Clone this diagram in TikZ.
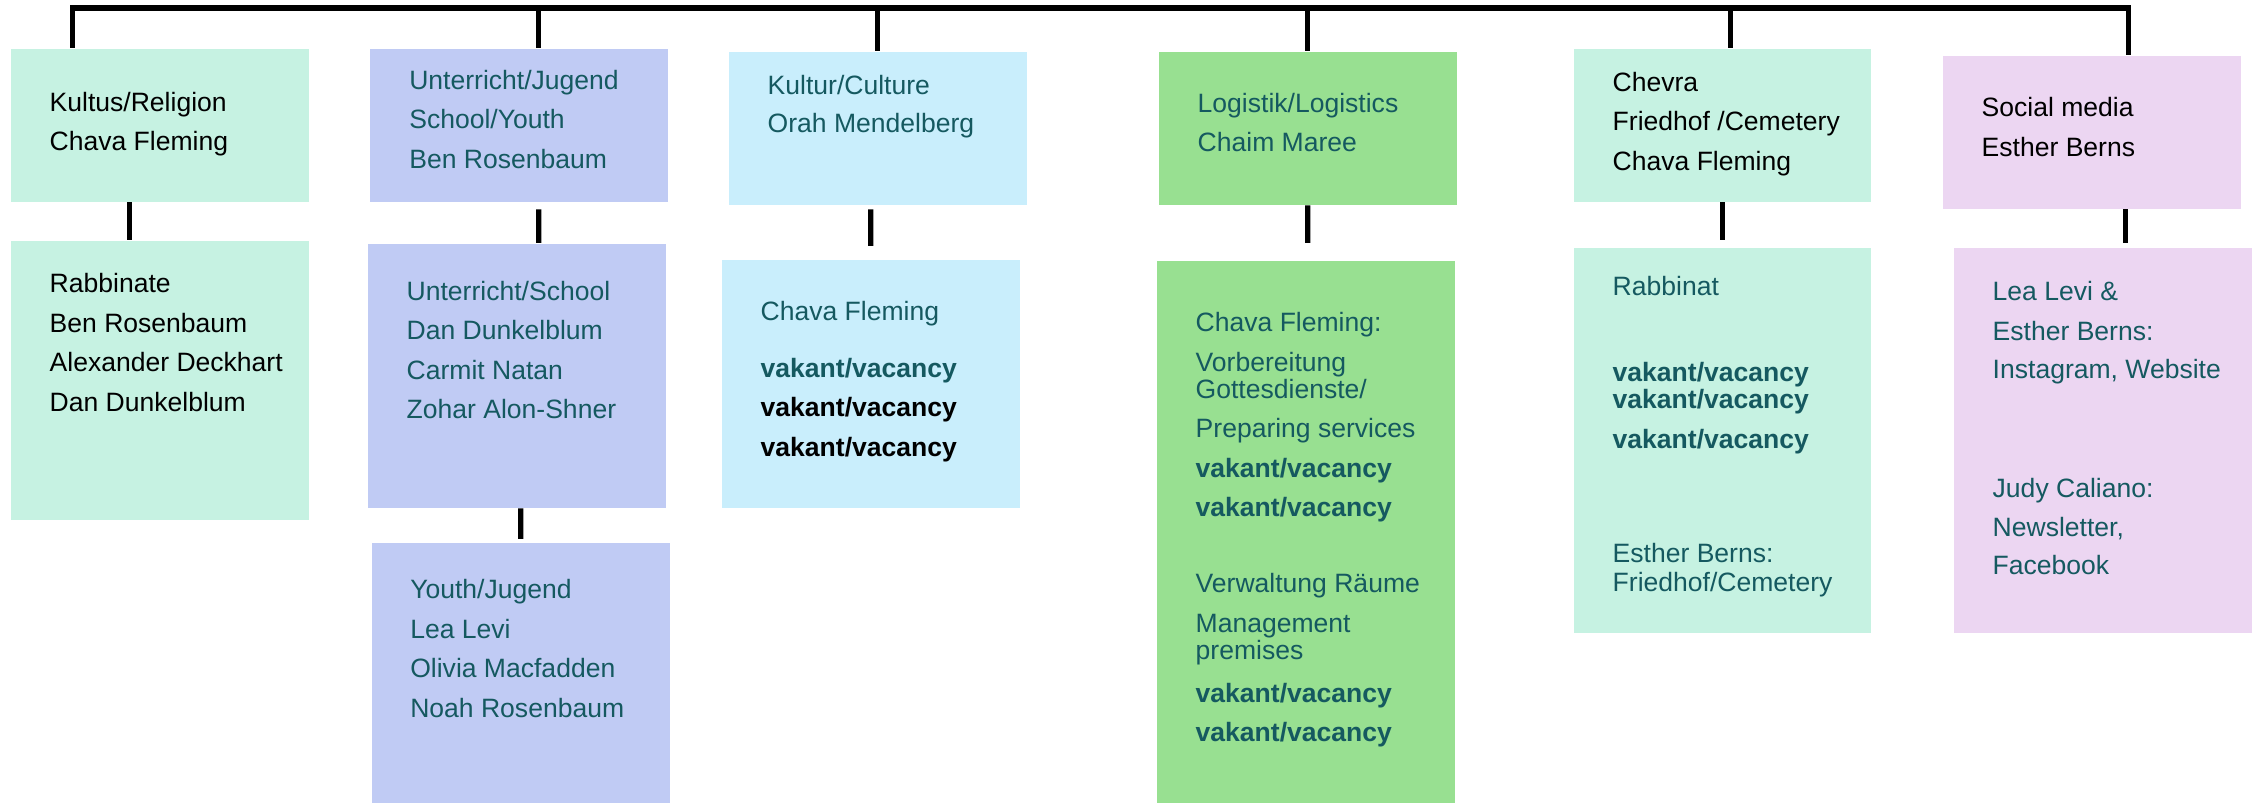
\documentclass[tikz,border=0pt]{standalone}
\usepackage{fontspec}
\setmainfont{Liberation Sans}
\usetikzlibrary{positioning}

\definecolor{mint}{HTML}{C6F2E2}
\definecolor{lavender}{HTML}{C0CBF4}
\definecolor{skyblue}{HTML}{C9EEFC}
\definecolor{leafgreen}{HTML}{98E091}
\definecolor{lilac}{HTML}{ECD6F2}
\definecolor{teal}{HTML}{155960}

\begin{document}
\begin{tikzpicture}
              % Define style for the boxes, texts and lines
              \tikzset{
                unitbox/.style={rectangle, inner sep=0pt, anchor=north west, minimum width=2.98cm, minimum height=1.53cm},
                unittext/.style={inner sep=0pt, align=left, text=teal, yshift=-0.085cm, font=\fontsize{7.55pt}{11.24pt}\selectfont, execute at begin node=\strut},
                link/.style={line width=1.5pt, black}
              }
              \useasboundingbox (0,0) rectangle (22.57,-8.03);

              % Draw the department boxes
              \node[unitbox, fill=mint] (kultus) at (0.10,-0.48) {};
              \node[unitbox, fill=lavender] (unterricht) at (3.69,-0.48) {};
              \node[unitbox, fill=skyblue] (kultur) at (7.28,-0.51) {};
              \node[unitbox, fill=leafgreen] (logistik) at (11.58,-0.51) {};
              \node[unitbox, fill=mint, minimum width=2.97cm] (chevra) at (15.73,-0.48) {};
              \node[unitbox, fill=lilac] (social) at (19.42,-0.55) {};

              % Draw the team boxes
              \node[unitbox, fill=mint, minimum height=2.79cm] (rabbinate) at (0.10,-2.40) {};
              \node[unitbox, fill=lavender, minimum height=2.64cm] (school) at (3.67,-2.43) {};
              \node[unitbox, fill=lavender, minimum height=2.61cm] (youth) at (3.71,-5.42) {};
              \node[unitbox, fill=skyblue, minimum height=2.48cm] (kulturb) at (7.21,-2.59) {};
              \node[unitbox, fill=leafgreen, minimum height=5.43cm] (logistikb) at (11.56,-2.60) {};
              \node[unitbox, fill=mint, minimum width=2.97cm, minimum height=3.85cm] (rabbinat) at (15.73,-2.47) {};
              \node[unitbox, fill=lilac, minimum height=3.85cm] (socialb) at (19.53,-2.47) {};

              % Texts
              \node[unittext, text=black, below right=0.349cm and 0.39cm of kultus.north west] (kultus-t)
                {Kultus/Religion\\Chava Fleming};
              \node[unittext, text=black, below right=0.243cm and 0.39cm of rabbinate.north west] (rabbinate-t)
                {Rabbinate\\Ben Rosenbaum\\Alexander Deckhart\\Dan Dunkelblum};
              \node[unittext, below right=0.129cm and 0.396cm of unterricht.north west] (unterricht-t)
                {Unterricht/Jugend\\School/Youth\\Ben Rosenbaum};
              \node[unittext, below right=0.288cm and 0.39cm of school.north west] (school-t)
                {Unterricht/School\\Dan Dunkelblum\\Carmit Natan\\Zohar Alon-Shner};
              \node[unittext, below right=0.283cm and 0.386cm of youth.north west] (youth-t)
                {Youth/Jugend\\Lea Levi\\Olivia Macfadden\\Noah Rosenbaum};
              \node[unittext, below right=0.15cm and 0.39cm of kultur.north west] (kultur-t)
                {Kultur/Culture\\[-0.4pt]Orah Mendelberg};
              \node[unittext, below right=0.333cm and 0.39cm of kulturb.north west] (kulturb-t)
                {Chava Fleming\\[4.9pt]\textbf{vakant/vacancy}\\
                 \textcolor{black}{\textbf{vakant/vacancy}}\\\textcolor{black}{\textbf{vakant/vacancy}}};
              \node[unittext, below right=0.329cm and 0.39cm of logistik.north west] (logistik-t)
                {Logistik/Logistics\\Chaim Maree};
              \node[unittext, below right=0.433cm and 0.39cm of logistikb.north west] (logistikb-t)
                {Chava Fleming:\\Vorbereitung\\[-3.6pt]Gottesdienste/\\Preparing services\\
                 \textbf{vakant/vacancy}\\\textbf{vakant/vacancy}\\[10.4pt]
                 Verwaltung Räume\\Management\\[-3.6pt]premises\\[1.1pt]
                 \textbf{vakant/vacancy}\\\textbf{vakant/vacancy}};
              \node[unittext, text=black, below right=0.149cm and 0.39cm of chevra.north west] (chevra-t)
                {Chevra\\Friedhof /Cemetery\\Chava Fleming};
              \node[unittext, below right=0.197cm and 0.39cm of rabbinat.north west] (rabbinat-t)
                {Rabbinat\\[13.4pt]\textbf{vakant/vacancy}\\[-3.6pt]\textbf{vakant/vacancy}\\
                 \textbf{vakant/vacancy}\\[21.3pt]Esther Berns:\\[-3pt]Friedhof/Cemetery};
              \node[unittext, text=black, below right=0.333cm and 0.39cm of social.north west] (social-t)
                {Social media\\Esther Berns};
              \node[unittext, below right=0.253cm and 0.39cm of socialb.north west] (socialb-t)
                {Lea Levi \&\\Esther Berns:\\[-0.4pt]Instagram, Website\\[22.6pt]
                 Judy Caliano:\\Newsletter,\\[-0.4pt]Facebook};

              % Top bar and drops
              \draw[link] ([xshift=-0.87cm]kultus.north) -- ++(0,0.40) -| ([xshift=0.37cm]social.north);
              \draw[link] ([xshift=0.20cm]unterricht.north) -- ++(0,0.40);
              \draw[link] (kultur.north) -- ++(0,0.43);
              \draw[link] (logistik.north) -- ++(0,0.43);
              \draw[link] ([xshift=0.085cm]chevra.north) -- ++(0,0.40);

              % Connect department boxes with team boxes
              \draw[link] ([xshift=-0.30cm]kultus.south) -- ([xshift=-0.30cm]rabbinate.north);
              \draw[link] ([xshift=0.20cm, yshift=-0.07cm]unterricht.south) -- ([xshift=0.22cm]school.north);
              \draw[link] ([xshift=0.04cm]school.south) -- ([yshift=0.03cm]youth.north);
              \draw[link] ([xshift=-0.07cm, yshift=-0.04cm]kultur.south) -- ([yshift=0.13cm]kulturb.north);
              \draw[link] (logistik.south) -- ([xshift=0.02cm, yshift=0.17cm]logistikb.north);
              \draw[link] (chevra.south) -- ([yshift=0.07cm]rabbinat.north);
              \draw[link] ([xshift=0.34cm]social.south) -- ([xshift=0.23cm, yshift=0.04cm]socialb.north);
            \end{tikzpicture}
\end{document}
